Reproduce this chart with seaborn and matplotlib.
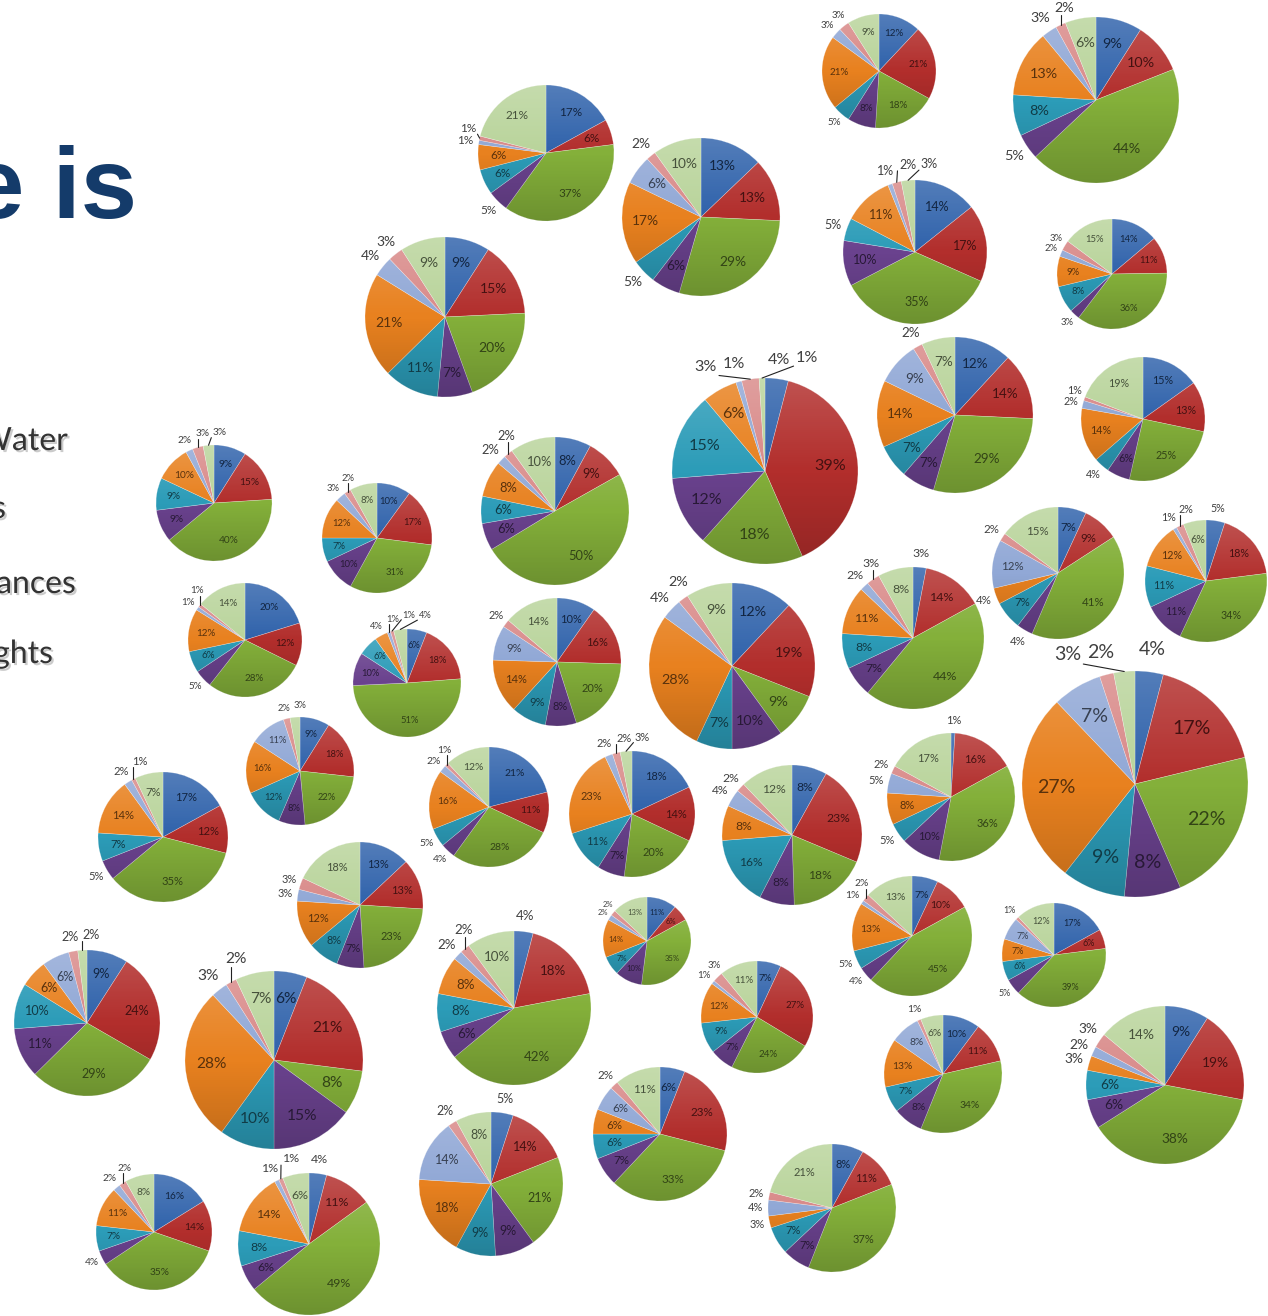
import numpy as np
import matplotlib
matplotlib.use("Agg")
import matplotlib.pyplot as plt
import matplotlib.colors as mcolors
import matplotlib.patheffects as pe
import seaborn as sns

W, H = 1268, 1316

# --- slice values, one list per colour, one entry per pie (clockwise from 12 o'clock) ---
blue = [17, 13, 12, 9, 14, 14, 9, 9, 10, 20, 6, 8, 4, 10, 12, 12, 15, 3, 7, 5,
        4, 9, 17, 21, 13, 18, 8, 1, 11, 7, 9, 6, 16, 4, 4, 7, 5, 6, 8, 17, 10, 9]
red = [6, 13, 21, 10, 17, 11, 15, 15, 17, 12, 18, 9, 39, 16, 19, 14, 13, 14, 9, 18,
       17, 18, 12, 11, 13, 14, 23, 16, 6, 10, 24, 21, 14, 11, 18, 27, 14, 23, 11, 6, 11, 19]
green = [37, 29, 18, 44, 35, 36, 20, 40, 31, 28, 51, 50, 18, 20, 9, 29, 25, 44, 41, 34,
         22, 22, 35, 28, 23, 20, 18, 36, 35, 45, 29, 8, 35, 49, 42, 24, 21, 33, 37, 39, 34, 38]
purple = [5, 6, 8, 5, 10, 3, 7, 9, 10, 5, 10, 6, 12, 8, 10, 7, 6, 7, 4, 11,
          8, 8, 5, 4, 7, 7, 8, 10, 10, 4, 11, 15, 4, 6, 6, 7, 9, 7, 7, 5, 8, 6]
teal = [6, 5, 5, 8, 5, 8, 11, 9, 7, 6, 6, 6, 15, 9, 7, 7, 4, 8, 7, 11,
        9, 12, 7, 5, 8, 11, 16, 5, 7, 5, 10, 10, 7, 8, 8, 9, 9, 6, 7, 6, 7, 6]
orange = [6, 17, 21, 13, 11, 9, 21, 10, 12, 12, 4, 8, 6, 14, 28, 14, 14, 11, 4, 12,
          27, 16, 14, 16, 12, 23, 8, 8, 14, 13, 6, 28, 11, 14, 8, 12, 18, 6, 3, 7, 13, 3]
light_blue = [1, 6, 3, 3, 1, 2, 4, 2, 3, 1, 1, 2, 1, 9, 4, 9, 2, 2, 12, 1,
              7, 11, 2, 2, 3, 2, 4, 5, 2, 1, 6, 3, 2, 1, 2, 1, 14, 6, 4, 7, 8, 2]
pink = [1, 2, 3, 2, 2, 3, 3, 3, 2, 1, 1, 2, 3, 2, 2, 2, 1, 3, 2, 2,
        2, 2, 1, 1, 3, 2, 2, 2, 2, 2, 2, 2, 2, 1, 2, 3, 2, 2, 2, 1, 1, 3]
light_green = [21, 10, 9, 6, 3, 15, 9, 3, 8, 14, 4, 10, 1, 14, 9, 7, 19, 8, 15, 6,
               3, 3, 7, 12, 18, 3, 12, 17, 13, 13, 2, 7, 8, 6, 10, 11, 8, 11, 21, 12, 6, 14]

# side text fragments (cut off by the left edge)
side_items = ["Water", "s", "Appliances", "Lights"]
title_text = "e is"

# --- layout: pie centres and radii in pixels ---
pie_x = [546, 701, 879, 1096, 915, 1112, 445, 214, 377, 245, 407, 555, 765, 557, 732,
         955, 1143, 913, 1058, 1206, 1135, 300, 163, 489, 360, 632, 792, 951, 647, 912,
         87, 274, 154, 309, 514, 757, 491, 660, 832, 1054, 943, 1165]
pie_y = [153, 217, 71, 100, 252, 274, 317, 503, 538, 640, 683, 511, 471, 662, 666,
         415, 419, 638, 573, 581, 784, 771, 837, 807, 905, 814, 835, 797, 941, 936,
         1023, 1060, 1232, 1244, 1008, 1017, 1184, 1134, 1208, 955, 1074, 1085]
pie_r = [68, 79, 57, 83, 72, 55, 80, 58, 55, 57, 54, 74, 93, 64, 83,
         78, 62, 71, 66, 61, 113, 54, 65, 60, 63, 63, 70, 64, 44, 60,
         73, 89, 58, 71, 77, 56, 72, 67, 64, 52, 59, 79]
side_x = [68, 6, 76, 53]
side_y = [450, 518, 593, 663]

slice_colors = ["#2F62AB", "#B22E2C", "#84B03A", "#6A428E", "#2C9CB8",
                "#E8811F", "#91A8D6", "#D98A89", "#B9D49B"]

sns.set_theme(style="white")
plt.rcParams["font.family"] = ["Lato", "DejaVu Sans"]

palette = sns.color_palette(slice_colors)
series = [blue, red, green, purple, teal, orange, light_blue, pink, light_green]

fig = plt.figure(figsize=(W / 100, H / 100), dpi=100)
ax = fig.add_axes([0, 0, 1, 1])

# vertical shading like the old office pies
grad = np.zeros((64, 2, 4))
for k in range(64):
    t = k / 63
    if t > 0.5:
        grad[k, :, :3] = 1.0
        grad[k, :, 3] = (t - 0.5) * 0.35
    else:
        grad[k, :, 3] = (0.5 - t) * 0.35


def dark(c, f=0.38):
    return tuple(v * f for v in mcolors.to_rgb(c))


def overlaps(box, boxes):
    x0, y0, x1, y1 = box
    for b in boxes:
        if x0 < b[2] and x1 > b[0] and y0 < b[3] and y1 > b[1]:
            return True
    return False


for i in range(len(pie_x)):
    vals = [s[i] for s in series]
    cx, cy, r = pie_x[i], H - pie_y[i], pie_r[i]
    wedges, _ = ax.pie(vals, colors=palette, startangle=90, counterclock=False,
                       center=(cx, cy), radius=r,
                       wedgeprops=dict(linewidth=0.4, edgecolor=(1, 1, 1, 0.4)))
    circ = plt.Circle((cx, cy), r, transform=ax.transData)
    im = ax.imshow(grad, extent=(cx - r, cx + r, cy - r, cy + r), origin="lower",
                   interpolation="bilinear", zorder=3)
    im.set_clip_path(circ)

    fs = 0.125 * r
    fpx = fs * 100 / 72
    placed = []
    for w, v, col in zip(wedges, vals, palette):
        ang = np.deg2rad((w.theta1 + w.theta2) / 2)
        ca, sa = np.cos(ang), np.sin(ang)
        label = f"{v}%"
        if v >= 6:
            ax.text(cx + 0.7 * r * ca, cy + 0.7 * r * sa, label, ha="center", va="center",
                    fontsize=fs, color=dark(col), zorder=5)
            continue
        tw = fpx * (0.62 * (len(label) - 1) + 1.0)
        th = fpx * 1.0
        bx, by = cx + 1.2 * r * ca, cy + 1.2 * r * sa
        # slide along the tangent (clockwise first) until the label is free
        step = 0.2 * th
        for n in range(80):
            shift = step * ((n + 1) // 2) * (1 if n % 2 else -1) if n else 0.0
            shift = -shift
            tx = bx + shift * sa
            ty = min(by - shift * ca, H - th / 2 - 1)
            box = (tx - tw / 2, ty - th / 2, tx + tw / 2, ty + th / 2)
            if not overlaps(box, placed):
                break
        placed.append(box)
        ax.text(tx, ty, label, ha="center", va="center", fontsize=fs,
                color="#404040", zorder=5)
        if abs(shift) > 0.6 * th:
            ex, ey = cx + 1.0 * r * ca, cy + 1.0 * r * sa
            lx = tx - np.sign(tx - ex) * min(abs(tx - ex), tw / 2)
            ly = ty - np.sign(ty - ey) * min(abs(ty - ey), th / 2)
            ax.plot([ex, lx], [ey, ly], color="#222222", lw=0.8, zorder=4)

ax.set_xlim(0, W)
ax.set_ylim(0, H)
ax.set_aspect("auto")
ax.axis("off")

ax.text(137, H - 218, title_text, ha="right", va="baseline", fontsize=73,
        fontweight="bold", family=["Liberation Sans", "DejaVu Sans"], color="#143B6A")

for txt, x, y in zip(side_items, side_x, side_y):
    ax.text(x, H - y, txt, ha="right", va="baseline", fontsize=23, color="#333333",
            path_effects=[pe.withSimplePatchShadow(offset=(1.5, -1.5),
                                                   shadow_rgbFace="#999999", alpha=0.5)])

fig.savefig("out.png", dpi=100)
